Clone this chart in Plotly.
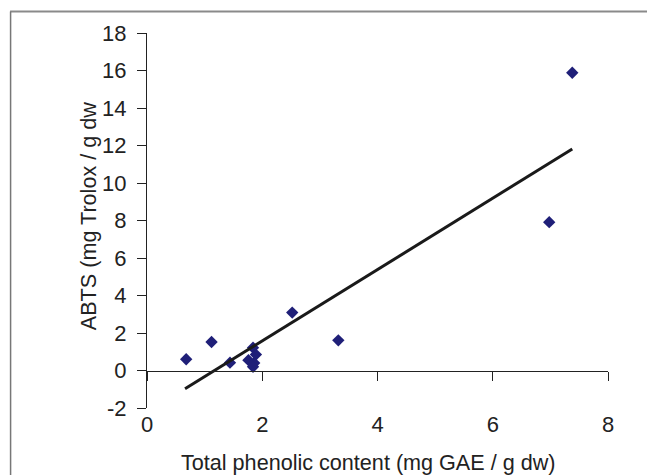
import plotly.graph_objects as go

# Data
tpc = [0.68, 1.12, 1.44, 1.76, 1.84, 1.89, 1.86, 1.84, 2.52, 3.32, 6.98, 7.38]
abts = [0.60, 1.52, 0.42, 0.55, 1.22, 0.85, 0.40, 0.20, 3.09, 1.61, 7.91, 15.88]
trend_x = [0.66, 7.38]
trend_y = [-0.97, 11.81]
x_ticks = [0, 2, 4, 6, 8]
y_ticks = [-2, 0, 2, 4, 6, 8, 10, 12, 14, 16, 18]
y_tick_labels = ["-2", "0", "2", "4", "6", "8", "10", "12", "14", "16", "18"]

x_title = "Total phenolic content (mg GAE / g dw)"
y_title = "ABTS (mg Trolox / g dw"

FONT = "Liberation Sans, Arial, sans-serif"
W, H = 647, 475
L, R, T, B = 147, 38.7, 33, 67.3
pw, ph = W - L - R, H - T - B


def px_x(p):
    return (p - L) / pw


def px_y(p):
    return (H - B - p) / ph


fig = go.Figure()
fig.add_trace(go.Scatter(
    x=trend_x, y=trend_y, mode="lines",
    line=dict(color="#1a1a1a", width=3),
    xaxis="x2", yaxis="y", showlegend=False, hoverinfo="skip"))
fig.add_trace(go.Scatter(
    x=tpc, y=abts, mode="markers",
    marker=dict(symbol="diamond", size=9.5, color="#1f1f78",
                line=dict(width=0)),
    showlegend=False))

fig.update_layout(
    width=W, height=H, autosize=False,
    margin=dict(l=L, r=R, t=T, b=B),
    paper_bgcolor="white", plot_bgcolor="white",
    font=dict(family=FONT, size=20, color="#222222"),
    xaxis=dict(range=[0, 8], tickvals=x_ticks, showline=False,
               showgrid=False, zeroline=False, ticks="",
               ticklabelstandoff=1,
               tickfont=dict(size=22, family=FONT, color="#222222")),
    xaxis2=dict(range=[0, 8], tickvals=x_ticks, overlaying="x",
                anchor="free", position=0.1, showline=True,
                linecolor="#222222", linewidth=1, ticks="outside",
                ticklen=9, tickcolor="#222222", tickwidth=1,
                showticklabels=False, showgrid=False, zeroline=False),
    yaxis=dict(range=[-2, 18], tickvals=y_ticks, ticktext=y_tick_labels,
               showline=True,
               linecolor="#222222", linewidth=1, ticks="outside",
               ticklen=9, tickcolor="#222222", tickwidth=1,
               ticklabelstandoff=6,
               showgrid=False, zeroline=False,
               tickfont=dict(size=22, family=FONT, color="#222222")),
)

fig.add_annotation(text=x_title, xref="paper", yref="paper",
                   x=px_x(368.5), y=px_y(461.7), xanchor="center",
                   yanchor="middle", showarrow=False,
                   font=dict(size=21.6, family=FONT, color="#222222"))
fig.add_annotation(text=y_title, xref="paper", yref="paper",
                   x=px_x(88), y=px_y(216), xanchor="center",
                   yanchor="middle", textangle=-90, showarrow=False,
                   font=dict(size=21.6, family=FONT, color="#222222"))

# outer chart-area border (top and left visible in the reference)
fig.add_shape(type="line", xref="paper", yref="paper",
              x0=px_x(10), x1=px_x(W + 5), y0=px_y(11.5), y1=px_y(11.5),
              line=dict(color="#8a8a8a", width=2))
fig.add_shape(type="line", xref="paper", yref="paper",
              x0=px_x(10.5), x1=px_x(10.5), y0=px_y(11.5), y1=px_y(H + 5),
              line=dict(color="#777777", width=1.5))

fig.write_html(
    "out.html",
    config={"displayModeBar": False},
    post_script="document.body.style.margin='0px';"
                "document.body.style.overflow='hidden';")
